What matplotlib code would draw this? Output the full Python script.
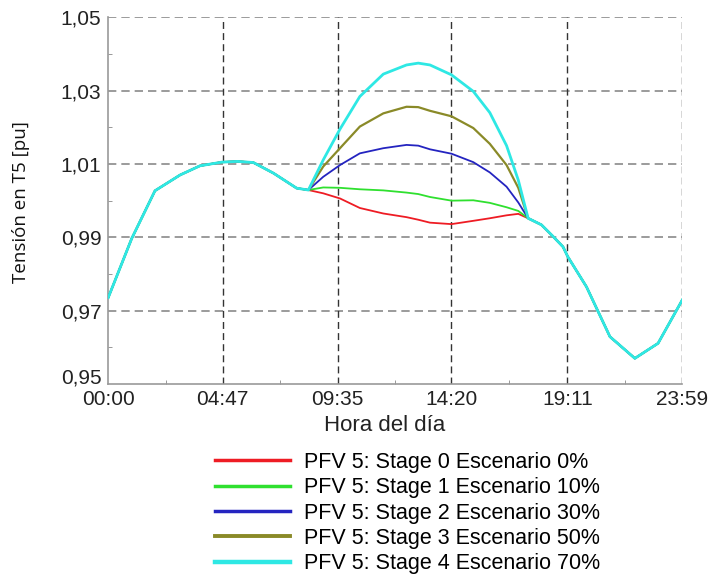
import matplotlib
matplotlib.use("Agg")
import matplotlib.pyplot as plt
from matplotlib.ticker import FixedLocator
from matplotlib.transforms import ScaledTranslation

# DATA (hours of the day, voltage in pu)
MORNING_H = [0.0, 0.98, 1.95, 3.0, 3.83, 4.74, 5.4, 6.06, 6.9, 7.87]
MORNING_V = [0.9736, 0.9897, 1.0027, 1.0070, 1.0095, 1.0105, 1.0107, 1.0104, 1.0075, 1.0034]

DAY_H = [8.36, 8.98, 9.68, 10.51, 11.49, 12.46, 12.95, 13.44, 14.34, 15.25, 15.94, 16.64, 17.13, 17.54]
STAGE0_V = [1.0029, 1.0020, 1.0006, 0.9980, 0.9965, 0.9955, 0.9948, 0.9940, 0.9936, 0.9945, 0.9952, 0.9960, 0.9964, 0.9952]
STAGE1_V = [1.0029, 1.0036, 1.0035, 1.0031, 1.0028, 1.0022, 1.0018, 1.0010, 1.0000, 1.0001, 0.9994, 0.9982, 0.9972, 0.9952]
STAGE2_V = [1.0029, 1.0065, 1.0097, 1.0129, 1.0143, 1.0152, 1.0150, 1.0140, 1.0128, 1.0105, 1.0077, 1.0038, 0.9995, 0.9952]
STAGE3_V = [1.0029, 1.0093, 1.0143, 1.0202, 1.0238, 1.0256, 1.0255, 1.0245, 1.0230, 1.0198, 1.0155, 1.0097, 1.0035, 0.9952]
STAGE4_V = [1.0029, 1.0111, 1.0195, 1.0284, 1.0345, 1.0370, 1.0375, 1.0370, 1.0343, 1.0298, 1.0240, 1.0150, 1.0056, 0.9952]

EVENING_H = [18.1, 18.59, 19.0, 19.2, 19.98, 20.96, 22.0, 22.97, 23.98]
EVENING_V = [0.9934, 0.9902, 0.9874, 0.9847, 0.9765, 0.9629, 0.9570, 0.9611, 0.9729]

LABELS = [
    "PFV 5: Stage 0 Escenario 0%",
    "PFV 5: Stage 1 Escenario 10%",
    "PFV 5: Stage 2 Escenario 30%",
    "PFV 5: Stage 3 Escenario 50%",
    "PFV 5: Stage 4 Escenario 70%",
]
COLOURS = ["#ee1c24", "#2fe02f", "#2424c0", "#8a8a28", "#2ee8e4"]
WIDTHS = [1.3, 1.3, 1.3, 1.6, 2.0]

X_TICKS = [0.0, 4.783, 9.583, 14.333, 19.183, 23.983]
X_TICKLABELS = ["00:00", "04:47", "09:35", "14:20", "19:11", "23:59"]
Y_TICKS = [0.95, 0.97, 0.99, 1.01, 1.03, 1.05]
Y_TICKLABELS = ["0,95", "0,97", "0,99", "1,01", "1,03", "1,05"]

plt.rcParams["font.family"] = ["Liberation Sans", "DejaVu Sans"]

fig = plt.figure(figsize=(7.12, 5.78), dpi=100)
ax = fig.add_axes([0.1521, 0.3356, 0.8062, 0.6345])

stages = [STAGE0_V, STAGE1_V, STAGE2_V, STAGE3_V, STAGE4_V]
for vals, col, lw, lab in zip(stages, COLOURS, WIDTHS, LABELS):
    xs = MORNING_H + DAY_H + EVENING_H
    ys = MORNING_V + vals + EVENING_V
    ax.plot(xs, ys, color=col, lw=lw, label=lab, zorder=3)

ax.set_xlim(X_TICKS[0], X_TICKS[-1])
ax.set_ylim(Y_TICKS[0], Y_TICKS[-1])
ax.set_xticks(X_TICKS)
ax.set_xticklabels(X_TICKLABELS)
ax.set_yticks(Y_TICKS)
ax.set_yticklabels(Y_TICKLABELS)
ax.xaxis.set_minor_locator(FixedLocator([(a + b) / 2 for a, b in zip(X_TICKS[:-1], X_TICKS[1:])]))
ax.yaxis.set_minor_locator(FixedLocator([(a + b) / 2 for a, b in zip(Y_TICKS[:-1], Y_TICKS[1:])]))
ax.tick_params(which="major", length=0, labelsize=15, labelcolor="#222222")
ax.tick_params(axis="x", which="major", pad=4)
ax.tick_params(axis="y", which="major", pad=5)
ax.tick_params(which="minor", direction="in", length=3, color="#888888")

# the lowest y label sits a bit higher so it clears the 00:00 label
lowest = ax.get_yticklabels()[0]
lowest.set_transform(lowest.get_transform() + ScaledTranslation(0, 8 / 100, fig.dpi_scale_trans))

# dashed grid, the top and right frame are grid lines too
for y in Y_TICKS[1:]:
    ax.axhline(y, color="#8a8a8a", lw=1.2, dashes=(5, 3), zorder=1)
for x in X_TICKS[1:]:
    ax.axvline(x, color="#333333", lw=1.0, dashes=(5, 3), zorder=1)

for side in ["top", "right"]:
    ax.spines[side].set_visible(False)
for side in ["left", "bottom"]:
    ax.spines[side].set_color("#999999")
    ax.spines[side].set_linewidth(1.2)

ax.set_xlabel("Hora del día", fontsize=16, color="#222222")
ax.xaxis.set_label_coords(0.482, -0.112)
ax.xaxis.label.set_va("center")
fig.text(0.029, 0.650, "Tensión en T5 [pu]", rotation=90, ha="center", va="center",
         fontsize=13.5, family=["Open Sans", "DejaVu Sans"], color="#111111")

leg = fig.legend(loc="upper left", bbox_to_anchor=(0.302, 0.218), frameon=False, fontsize=15.5,
                 handlelength=3.5, handletextpad=0.65, labelspacing=0.2, borderpad=0,
                 borderaxespad=0)
for line in leg.get_lines():
    line.set_linewidth(line.get_linewidth() + 1.2)

fig.savefig("out.png", dpi=100)
